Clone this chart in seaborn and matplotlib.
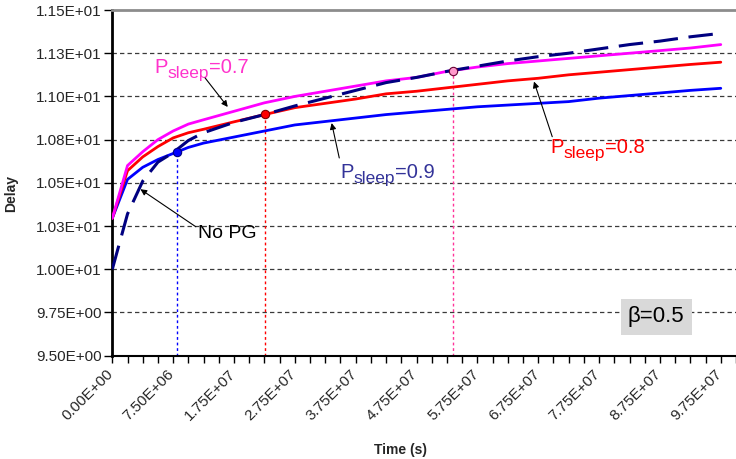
import matplotlib
matplotlib.use("Agg")
import matplotlib.pyplot as plt
import matplotlib.transforms as mtransforms
import seaborn as sns
import numpy as np
import pandas as pd

# ---- data (category index along the x axis) ----
idx = [0, 1, 2, 3, 4, 5, 6, 8, 10, 12, 14, 16, 18, 20, 22, 24, 26, 28, 30, 32, 34, 36, 38, 40]
p07 = [10.295, 10.60, 10.68, 10.75, 10.80, 10.84, 10.865, 10.914, 10.963, 11.00, 11.03, 11.06,
       11.09, 11.11, 11.145, 11.17, 11.19, 11.205, 11.22, 11.235, 11.25, 11.265, 11.28, 11.30]
p08 = [10.295, 10.57, 10.65, 10.71, 10.76, 10.79, 10.81, 10.853, 10.895, 10.935, 10.96, 10.985,
       11.015, 11.03, 11.05, 11.07, 11.09, 11.105, 11.125, 11.14, 11.155, 11.17, 11.185, 11.198]
p09 = [10.295, 10.52, 10.59, 10.635, 10.67, 10.705, 10.73, 10.765, 10.80, 10.835, 10.855, 10.875,
       10.895, 10.91, 10.925, 10.94, 10.95, 10.96, 10.97, 10.99, 11.005, 11.02, 11.035, 11.047]
nopg = [10.00, 10.32, 10.51, 10.62, 10.675, 10.745, 10.79, 10.85, 10.895, 10.945, 10.99, 11.035,
        11.08, 11.11, 11.145, 11.175, 11.205, 11.23, 11.25, 11.275, 11.30, 11.32, 11.345, 11.365]

xtick_pos = [0, 4, 8, 12, 16, 20, 24, 28, 32, 36, 40]
xtick_labels = ["0.00E+00", "7.50E+06", "1.75E+07", "2.75E+07", "3.75E+07", "4.75E+07",
                "5.75E+07", "6.75E+07", "7.75E+07", "8.75E+07", "9.75E+07"]
ytick_vals = [9.50, 9.75, 10.00, 10.25, 10.50, 10.75, 11.00, 11.25, 11.50]
ytick_labels = ["9.50E+00", "9.75E+00", "1.00E+01", "1.03E+01", "1.05E+01", "1.08E+01",
                "1.10E+01", "1.13E+01", "1.15E+01"]

# highlighted points (x index, delay)
mark_x = [4.23, 10.05, 22.41]
mark_y = [10.68, 10.897, 11.149]

sns.set_theme(style="white")
plt.rcParams["font.family"] = ["Liberation Sans", "DejaVu Sans"]

fig = plt.figure(figsize=(7.36, 4.59), dpi=100)
ax = fig.add_axes([112.3 / 736, 1 - 355.7 / 459, (736 - 112.3) / 736, (355.7 - 10) / 459])

df = pd.DataFrame({"idx": idx, "p07": p07, "p08": p08, "p09": p09, "nopg": nopg})

ax.set_xlim(0, 40.6)
ax.set_ylim(9.5, 11.5)

# grid
for v in ytick_vals[1:-1]:
    ax.axhline(v, color="#3a3a3a", lw=0.9, ls=(0, (3.5, 2.5)), zorder=1)

# vertical dotted guides
ax.vlines(mark_x[0], 9.5, mark_y[0], colors="#0000FF", lw=1.0, ls=(0, (2, 2)), zorder=2)
ax.vlines(mark_x[1], 9.5, mark_y[1], colors="#FF0000", lw=1.0, ls=(0, (2, 2)), zorder=2)
ax.vlines(mark_x[2], 9.5, mark_y[2], colors="#FF3399", lw=1.0, ls=(0, (2, 2)), zorder=2)

sns.lineplot(data=df, x="idx", y="p09", ax=ax, color="#0000FF", lw=2, zorder=3)
sns.lineplot(data=df, x="idx", y="p08", ax=ax, color="#FF0000", lw=2, zorder=3)
sns.lineplot(data=df, x="idx", y="p07", ax=ax, color="#FF00FF", lw=2, zorder=3)
sns.lineplot(data=df, x="idx", y="nopg", ax=ax, color="#000080", lw=2.2, zorder=4)
ax.lines[-1].set_dashes([8, 3.5])

ax.plot(mark_x[0], mark_y[0], "o", ms=6, mfc="#0000FF", mec="#000080", mew=0.8, zorder=6)
ax.plot(mark_x[1], mark_y[1], "o", ms=6, mfc="#FF0000", mec="#800000", mew=0.8, zorder=6)
ax.plot(mark_x[2], mark_y[2], "o", ms=6, mfc="#FF99CC", mec="#660033", mew=0.8, zorder=6)

# axes styling
ax.set_xticks(xtick_pos)
ax.set_xticklabels(xtick_labels, rotation=45, ha="right", va="top",
                   rotation_mode="anchor", fontsize=11)
ax.set_xticks(range(0, 42), minor=True)
ax.tick_params(axis="x", which="both", direction="out", length=5, width=1, color="black",
               bottom=True)
ax.tick_params(axis="x", which="major", pad=6)
offset = mtransforms.ScaledTranslation(-6 / 100, 4 / 100, fig.dpi_scale_trans)
for lab in ax.get_xticklabels():
    lab.set_transform(lab.get_transform() + offset)
ax.set_yticks(ytick_vals)
ax.set_yticklabels(ytick_labels, fontsize=11)
ax.tick_params(axis="y", direction="out", length=6, width=1, color="black", left=True, pad=1.5)

ax.spines["right"].set_visible(False)
ax.spines["top"].set_color("#8c8c8c")
ax.spines["top"].set_linewidth(2)
ax.spines["left"].set_color("black")
ax.spines["left"].set_linewidth(2)
ax.spines["bottom"].set_color("black")
ax.spines["bottom"].set_linewidth(1.5)

ax.set_xlabel("Time (s)", fontsize=10, fontweight="bold")
ax.set_ylabel("Delay", fontsize=10, fontweight="bold")
ax.xaxis.set_label_coords((400 - 112.3) / (736 - 112.3), -(443 - 355.7) / 345.7)
ax.yaxis.set_label_coords(-(112.3 - 18) / (736 - 112.3), (355.7 - 193) / 345.7)

renderer = fig.canvas.get_renderer()


def psleep_label(x, y, value, color):
    """Draw 'P' + subscript 'sleep' + '=value', left edge at (x, y baseline)."""
    dx = 0.0
    pieces = [("P", 14.5, 0.0), ("sleep", 12.5, -5.0), ("=" + value, 14.5, 0.0)]
    for txt, fs, dy in pieces:
        tr = ax.transData + mtransforms.ScaledTranslation(dx / 100, dy / 100, fig.dpi_scale_trans)
        t = ax.text(x, y, txt, fontsize=fs, color=color, ha="left", va="baseline",
                    transform=tr, zorder=7)
        dx += t.get_window_extent(renderer).width


arrow = dict(arrowstyle="-|>", color="black", lw=0.8, mutation_scale=9, shrinkA=0, shrinkB=0)

psleep_label(2.78, 11.136, "0.7", "#FF33CC")
ax.annotate("", xy=(7.59, 10.939), xytext=(6.10, 11.107), arrowprops=arrow, zorder=7)

psleep_label(14.99, 10.527, "0.9", "#333399")
ax.annotate("", xy=(14.42, 10.846), xytext=(14.92, 10.644), arrowprops=arrow, zorder=7)

psleep_label(28.80, 10.671, "0.8", "#FF0000")
ax.annotate("", xy=(27.72, 11.086), xytext=(28.92, 10.767), arrowprops=arrow, zorder=7)

ax.text(7.53, 10.208, "No PG", color="black", fontsize=14, ha="center", va="center", zorder=7)
ax.annotate("", xy=(1.85, 10.463), xytext=(5.49, 10.246), arrowprops=arrow, zorder=7)

ax.text(35.75, 9.724, "β=0.5", color="black", fontsize=16, ha="center", va="center", zorder=7,
        bbox=dict(boxstyle="square,pad=0.32", facecolor="#D9D9D9", edgecolor="none"))

fig.savefig("out.png", dpi=100)
